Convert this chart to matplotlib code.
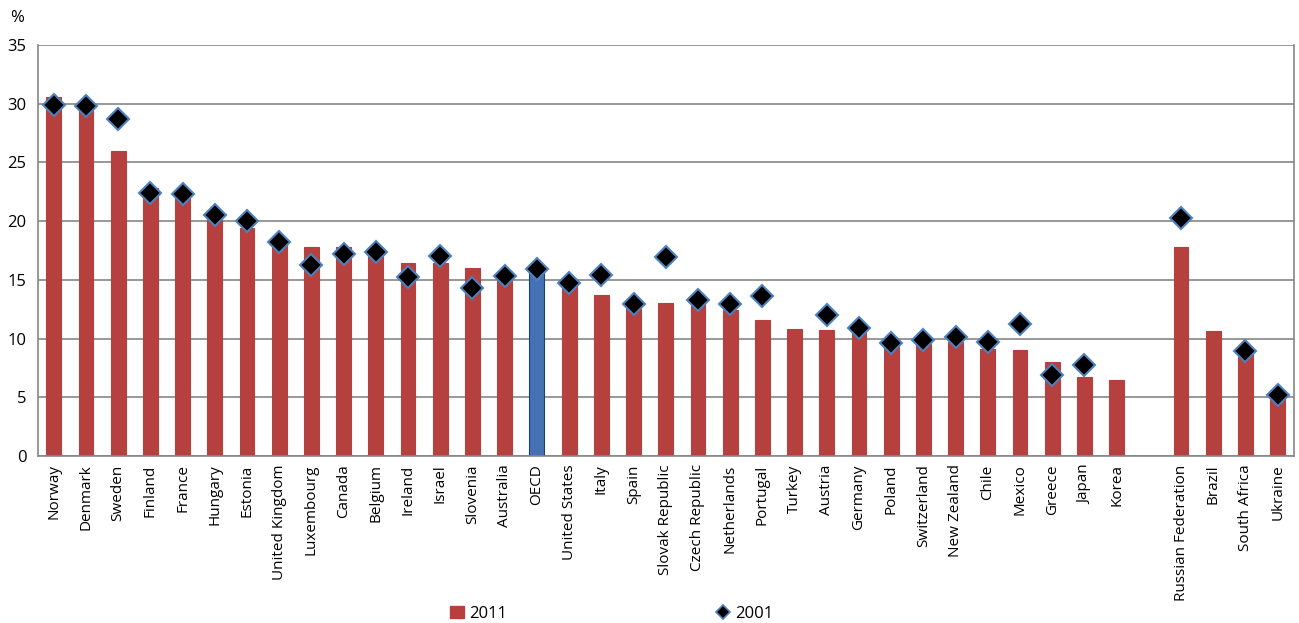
import numpy as np
import matplotlib
matplotlib.use("Agg")
import matplotlib.pyplot as plt
from matplotlib.lines import Line2D
from matplotlib.patches import Patch

plt.rcParams['font.family'] = ['Open Sans', 'DejaVu Sans']

countries = ["Norway", "Denmark", "Sweden", "Finland", "France", "Hungary", "Estonia",
             "United Kingdom", "Luxembourg", "Canada", "Belgium", "Ireland", "Israel",
             "Slovenia", "Australia", "OECD", "United States", "Italy", "Spain",
             "Slovak Republic", "Czech Republic", "Netherlands", "Portugal", "Turkey",
             "Austria", "Germany", "Poland", "Switzerland", "New Zealand", "Chile",
             "Mexico", "Greece", "Japan", "Korea",
             "", "Russian Federation", "Brazil", "South Africa", "Ukraine"]
v2011 = [30.6, 29.8, 26.0, 22.8, 22.0, 20.3, 19.4, 18.0, 17.8, 17.8, 17.2, 16.4, 16.4,
         16.0, 15.7, 15.8, 14.6, 13.7, 12.8, 13.0, 13.0, 12.4, 11.6, 10.8,
         10.7, 10.7, 9.5, 9.8, 9.7, 9.1, 9.0, 8.0, 6.7, 6.5,
         np.nan, 17.8, 10.65, 8.8, 5.6]
v2001 = [29.9, 29.8, 28.7, 22.4, 22.3, 20.5, 20.0, 18.2, 16.3, 17.2, 17.4, 15.2, 17.0,
         14.3, 15.3, 15.9, 14.7, 15.4, 12.9, 16.95, 13.3, 12.95, 13.6, np.nan,
         12.0, 10.9, 9.6, 9.9, 10.1, 9.7, 11.2, 6.9, 7.75, np.nan,
         np.nan, 20.25, np.nan, 8.9, 5.2]

red = '#B5403D'
blue = '#4472B4'

fig = plt.figure(figsize=(12.99, 6.23), dpi=100)
ax = fig.add_axes([0.029, 0.268, 0.967, 0.66])

x = np.arange(len(countries))
colors = [blue if c == "OECD" else red for c in countries]
edges = ['#1F3F6E' if c == "OECD" else red for c in countries]
ax.bar(x, v2011, width=0.46, color=colors, edgecolor=edges, linewidth=0.8, zorder=2)
ax.plot(x, v2001, linestyle='none', marker='D', markersize=11,
        markerfacecolor='black', markeredgecolor='#4F81BD', markeredgewidth=1.5, zorder=3)

ax.set_xlim(-0.5, len(countries) - 0.5)
ax.set_ylim(0, 35)
ax.set_yticks(range(0, 36, 5))
ax.yaxis.grid(True, color='#868686', linewidth=1.2, zorder=0)
ax.set_axisbelow(True)
ax.set_xticks(x)
ax.set_xticklabels(countries, rotation=90, fontsize=11)
ax.tick_params(axis='y', labelsize=12, length=0, pad=8)
ax.tick_params(axis='x', length=0, pad=6)
for s in ['left', 'bottom', 'right']:
    ax.spines[s].set_color('#868686')
    ax.spines[s].set_linewidth(1.2)
ax.spines['top'].set_visible(False)

fig.text(0.008, 0.965, "%", fontsize=12)

handles = [Patch(facecolor=red, edgecolor=red),
           Line2D([], [], linestyle='none', marker='D', markersize=7,
                  markerfacecolor='black', markeredgecolor='#4F81BD', markeredgewidth=1.2)]
fig.legend(handles, ["2011", "2001"], loc='center', bbox_to_anchor=(0.471, 0.015),
           ncol=2, frameon=False, fontsize=12, columnspacing=12.6,
           handlelength=0.8, handletextpad=0.3)

fig.savefig("out.png", dpi=100)
